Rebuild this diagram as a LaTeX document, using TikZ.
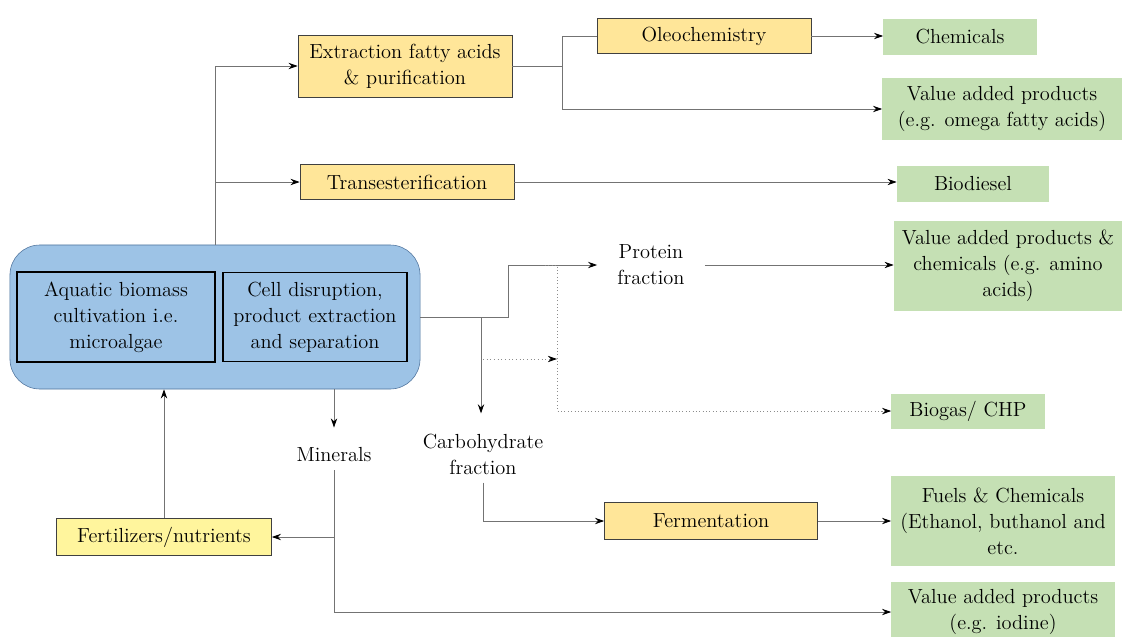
\documentclass[tikz,border=0pt]{standalone}
\usetikzlibrary{arrows.meta}
\definecolor{boxblue}{HTML}{9DC3E6}
\definecolor{edgeblue}{HTML}{4F739C}
\definecolor{procyellow}{HTML}{FFE699}
\definecolor{fertyellow}{HTML}{FFF59D}
\definecolor{prodgreen}{HTML}{C5E0B4}
\tikzstyle{process} = [rectangle, minimum width=5.35cm, minimum height=0.875cm, text centered, align=center, draw=black!75, fill=procyellow]
\tikzstyle{product} = [rectangle, minimum width=3.825cm, minimum height=0.875cm, text centered, align=center, fill=prodgreen]
\tikzstyle{stage} = [rectangle, text centered, align=center, draw=black, thick, fill=boxblue]
\tikzstyle{fraction} = [align=center, inner xsep=0.5cm, inner ysep=0.2cm]
\tikzstyle{arrow} = [draw=black!55, line width=0.6pt, -{Stealth[black, length=6.5pt, width=4.5pt]}]
\tikzstyle{line} = [draw=black!55, line width=0.6pt]
\tikzstyle{dotline} = [draw=black!45, dotted]

\begin{document}
\begin{tikzpicture}[x=0.025cm, y=-0.025cm, font=\fontsize{14.5}{18.5}\selectfont]

    \useasboundingbox (0,0) rectangle (1123,637);

    % Nodes
    \node (plant) [rectangle, rounded corners=0.75cm, draw=edgeblue, fill=boxblue, minimum width=10.25cm, minimum height=3.6cm] at (215,317) {};
    \node (cultivation) [stage, minimum width=4.95cm, minimum height=2.25cm] at (116,317) {Aquatic biomass\\cultivation i.e.\\microalgae};
    \node (disruption) [stage, minimum width=4.6cm, minimum height=2.225cm] at (315,317) {Cell disruption,\\product extraction\\and separation};

    \node (extraction) [process, minimum height=1.55cm] at (405,66) {Extraction fatty acids\\\& purification};
    \node (oleo) [process] at (704,36) {Oleochemistry};
    \node (trans) [process] at (407,182) {Transesterification};
    \node (ferment) [process, minimum width=5.325cm, minimum height=0.925cm] at (711,521) {Fermentation};
    \node (fert) [process, fill=fertyellow, minimum width=5.375cm, minimum height=0.925cm] at (164,537) {Fertilizers/nutrients};

    \node (chemicals) [product] at (960,37) {Chemicals};
    \node (omega) [product, minimum width=5.975cm, minimum height=1.55cm] at (1002,109) {Value added products\\(e.g. omega fatty acids)};
    \node (biodiesel) [product, minimum width=3.8cm] at (973,184) {Biodiesel};
    \node (amino) [product, minimum width=5.7cm, minimum height=2.225cm] at (1008,266) {Value added products \&\\chemicals (e.g. amino\\acids)};
    \node (biogas) [product] at (968,411) {Biogas/ CHP};
    \node (fuels) [product, minimum width=5.575cm, minimum height=2.225cm] at (1003,521) {Fuels \& Chemicals\\(Ethanol, buthanol and\\etc.};
    \node (iodine) [product, minimum width=5.575cm, minimum height=1.5cm] at (1003,612) {Value added products\\(e.g. iodine)};

    \node (protein) [fraction] at (651,265) {Protein\\fraction};
    \node (carb) [fraction] at (483,454) {Carbohydrate\\fraction};
    \node (minerals) [fraction] at (334,455) {Minerals};

    \coordinate (split) at (481,317);
    \coordinate (dottop) at (545,265);
    \coordinate (dotmid) at (557,359);

    % Arrows
    \draw [arrow] (plant.north) |- (extraction.west);
    \draw [arrow] (plant.north |- trans.west) -- (trans.west);
    \draw [line] (extraction.east) -- ++(50,0) |- (oleo.west);
    \draw [arrow] (extraction.east) -- ++(50,0) |- (omega.west);
    \draw [arrow] (oleo.east) -- (oleo.east -| chemicals.west);
    \draw [arrow] (trans.east) -- (trans.east -| biodiesel.west);

    \draw [arrow] (plant.east) -- ++(88,0) |- (protein.west);
    \draw [arrow] (split) -- (split |- carb.north) [shorten >=0.3cm];
    \draw [arrow] (protein.east) -- (protein.east -| amino.west);
    \draw [dotline] (dottop) -- ++(12,0) |- (biogas.west);
    \draw [arrow, dotted, draw=black!45] (biogas.west) ++(-10,0) -- (biogas.west);
    \draw [arrow, dotted, draw=black!45] (split |- dotmid) ++(2,0) -- (dotmid);

    \draw [arrow] (carb.south) |- (ferment.west);
    \draw [arrow] (ferment.east) -- (fuels.west);

    \draw [arrow] (plant.south -| minerals.north) -- (minerals.north) [shorten >=0.3cm];
    \draw [arrow] (minerals.south) |- (iodine.west);
    \draw [arrow] (minerals.south |- fert.east) -- (fert.east);
    \draw [arrow] (fert.north) -- (fert.north |- plant.south);

\end{tikzpicture}
\end{document}
